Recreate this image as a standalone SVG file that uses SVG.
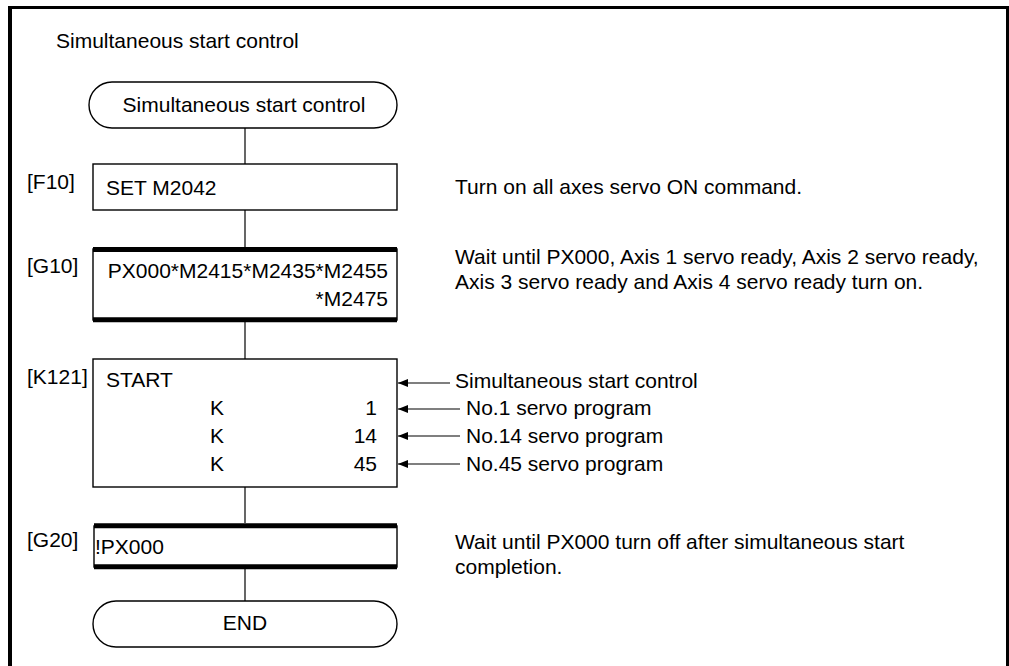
<svg xmlns="http://www.w3.org/2000/svg" width="1009" height="666" viewBox="0 0 1009 666">
<defs>
<style>
text{font-family:"Liberation Sans",Arial,sans-serif;font-size:21px;fill:#000}
.box{fill:#fff;stroke:#000;stroke-width:1.4}
.bar{stroke:#000;stroke-width:5}
.ln{stroke:#000;stroke-width:1.2;fill:none}
.mid{text-anchor:middle}
.end{text-anchor:end}
</style>
<marker id="ah" viewBox="0 0 10 8" refX="0" refY="4" markerWidth="10" markerHeight="8" markerUnits="userSpaceOnUse" orient="auto">
<path d="M0,4 L10,0 L10,8 Z" fill="#000"/>
</marker>
</defs>
<rect width="1009" height="666" fill="#fff"/>
<g id="frame">
<rect x="8" y="6" width="4" height="660" fill="#000"/>
<rect x="8" y="6" width="1001" height="3" fill="#000"/>
<rect x="1006" y="6" width="3" height="660" fill="#000"/>
</g>
<text x="56" y="48">Simultaneous start control</text>
<g id="connectors">
<line class="ln" x1="245" y1="128" x2="245" y2="164"/>
<line class="ln" x1="245" y1="210" x2="245" y2="247"/>
<line class="ln" x1="245" y1="322" x2="245" y2="359"/>
<line class="ln" x1="245" y1="487" x2="245" y2="523"/>
<line class="ln" x1="245" y1="569" x2="245" y2="601"/>
<line class="ln" x1="398" y1="383" x2="450" y2="383" marker-start="url(#ah)"/>
<line class="ln" x1="398" y1="409" x2="460" y2="409" marker-start="url(#ah)"/>
<line class="ln" x1="398" y1="436" x2="460" y2="436" marker-start="url(#ah)"/>
<line class="ln" x1="398" y1="464" x2="460" y2="464" marker-start="url(#ah)"/>
</g>
<g id="start">
<rect class="box" x="89" y="82" width="308" height="46" rx="23" ry="23"/>
<text class="mid" x="244" y="112">Simultaneous start control</text>
</g>
<g id="F10">
<text x="27" y="189">[F10]</text>
<rect class="box" x="93" y="164" width="304" height="46"/>
<text x="106" y="195">SET M2042</text>
<text x="455" y="194">Turn on all axes servo ON command.</text>
</g>
<g id="G10">
<text x="27" y="273">[G10]</text>
<rect class="box" x="93" y="249" width="304" height="71"/>
<line class="bar" x1="93" y1="249.5" x2="397" y2="249.5"/>
<line class="bar" x1="93" y1="319.7" x2="397" y2="319.7"/>
<text class="end" x="388" y="278">PX000*M2415*M2435*M2455</text>
<text class="end" x="388" y="306">*M2475</text>
<text x="455" y="264">Wait until PX000, Axis 1 servo ready, Axis 2 servo ready,</text>
<text x="455" y="289">Axis 3 servo ready and Axis 4 servo ready turn on.</text>
</g>
<g id="K121">
<text x="27" y="384">[K121]</text>
<rect class="box" x="93" y="359" width="304" height="128"/>
<text x="106" y="387">START</text>
<text x="210" y="415">K</text>
<text class="end" x="377" y="415">1</text>
<text x="210" y="443">K</text>
<text class="end" x="377" y="443">14</text>
<text x="210" y="471">K</text>
<text class="end" x="377" y="471">45</text>
<text x="455" y="388">Simultaneous start control</text>
<text x="466" y="415">No.1 servo program</text>
<text x="466" y="443">No.14 servo program</text>
<text x="466" y="471">No.45 servo program</text>
</g>
<g id="G20">
<text x="27" y="547">[G20]</text>
<rect class="box" x="94" y="526" width="303" height="41"/>
<line class="bar" x1="94" y1="525.8" x2="397" y2="525.8"/>
<line class="bar" x1="94" y1="566.7" x2="397" y2="566.7"/>
<text x="95" y="554">!PX000</text>
<text x="455" y="549">Wait until PX000 turn off after simultaneous start</text>
<text x="455" y="574">completion.</text>
</g>
<g id="end">
<rect class="box" x="93" y="601" width="304" height="46" rx="23" ry="23"/>
<text class="mid" x="245" y="630">END</text>
</g>
</svg>
